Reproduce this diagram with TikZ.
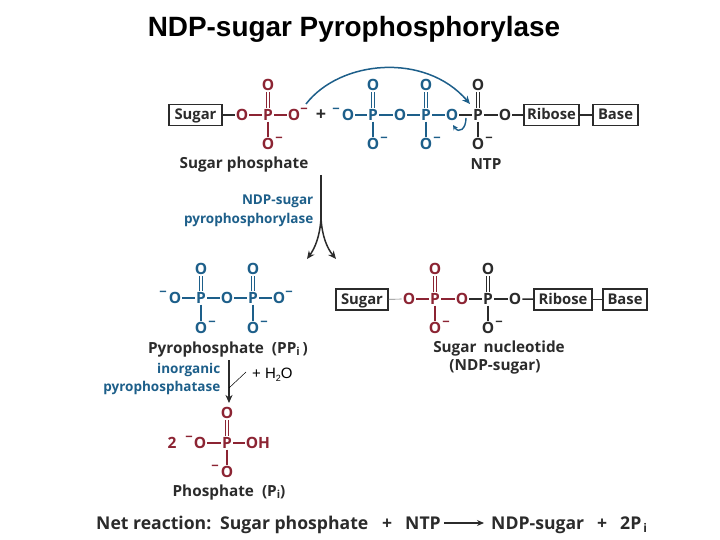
\documentclass[tikz,border=0pt]{standalone}
\usepackage{fontspec}
\setmainfont{Open Sans}
\newfontfamily\arialfont{Liberation Sans}
\usetikzlibrary{arrows.meta}
\definecolor{cred}{HTML}{8C2433}
\definecolor{cblue}{HTML}{1D5F8A}
\definecolor{cblk}{HTML}{2B2B2B}
\tikzset{
  atom/.style={font=\fontsize{15.5}{15.5}\selectfont\bfseries,inner sep=1pt,text height=11pt,text depth=0pt,align=center},
  chg/.style={font=\fontsize{13}{13}\selectfont\bfseries,inner sep=0pt,yshift=-1.5pt},
  boxn/.style={draw=cblk,line width=1.4pt,font=\fontsize{14.8}{14.8}\selectfont\bfseries,text=cblk,inner sep=0pt,minimum height=21pt,fill=white,text height=11pt,text depth=1pt},
  lab/.style={font=\fontsize{15.3}{15.3}\selectfont\bfseries,inner sep=0pt,text=cblk,yshift=-1.5pt},
  enz/.style={font=\fontsize{13.5}{18.5}\selectfont\bfseries,inner sep=0pt,text=cblue},
  bond/.style={line width=1.5pt},
  dbl/.style={double=white,double distance=1.5pt,line width=1pt},
  tip/.style={-{Stealth[length=8pt,width=7pt,inset=2.5pt]}},
}
\newcommand{\qat}[4]{\node[atom,text=#4] (#1) at (#2) {#3};}
\newcommand{\qch}[3]{\node[chg,text=#3] at (#1) {#2};}
\begin{document}
\begin{tikzpicture}[x=1pt,y=-1pt]
\useasboundingbox[fill=white] (0,0) rectangle (720,540);
\node[font=\arialfont\bfseries\fontsize{27.9}{27.9}\selectfont,inner sep=0pt,text=black] (title) at (354,29) {NDP-sugar Pyrophosphorylase};

% Top row: sugar phosphate
\node[boxn,minimum width=53pt] (s1) at (195.5,115) {Sugar};
\qat{a1}{242,115}{O}{cred}\qat{a2}{268,115}{P}{cred}\qat{a3}{294,115}{O}{cred}
\qat{a4}{268,85}{O}{cred}\qat{a5}{268,144}{O}{cred}
\qch{304,109}{−}{cred}\qch{279,138}{−}{cred}
\draw[bond,cblk] (s1) -- (a1);
\draw[bond,cred] (a1) -- (a2); \draw[bond,cred] (a2) -- (a3); \draw[bond,cred] (a2) -- (a5);
\draw[dbl,cred] (a2) -- (a4);
\node[font=\fontsize{18}{18}\selectfont\bfseries,inner sep=0pt,text=cblk] (plus1) at (321,115) {+};

% Top row: NTP
\qch{336,109}{−}{cblue}
\qat{b1}{348,115}{O}{cblue}\qat{b2}{373,115}{P}{cblue}\qat{b3}{400,115}{O}{cblue}
\qat{b4}{426,115}{P}{cblue}\qat{b5}{452,115}{O}{cblue}
\qat{b6}{373,85}{O}{cblue}\qat{b7}{373,144}{O}{cblue}
\qat{b8}{426,85}{O}{cblue}\qat{b9}{426,144}{O}{cblue}
\qch{384,138}{−}{cblue}\qch{437,138}{−}{cblue}
\qat{c1}{478,115}{P}{cblk}\qat{c2}{505,115}{O}{cblk}\qat{c3}{478,85}{O}{cblk}\qat{c4}{478,144}{O}{cblk}
\qch{489,138}{−}{cblk}
\node[boxn,minimum width=55pt] (r1) at (551.5,115) {Ribose};
\node[boxn,minimum width=45pt] (n1) at (615.5,115) {Base};
\foreach \p/\q in {b1/b2,b2/b3,b3/b4,b4/b5,b2/b7,b4/b9} \draw[bond,cblue] (\p) -- (\q);
\draw[dbl,cblue] (b2) -- (b6); \draw[dbl,cblue] (b4) -- (b8);
\draw[bond,cblk] (b5) -- (c1); \draw[bond,cblk] (c1) -- (c2); \draw[bond,cblk] (c1) -- (c4);
\draw[dbl,cblk] (c1) -- (c3);
\draw[bond,cblk] (c2) -- (r1); \draw[bond,cblk] (r1) -- (n1);

% Curved arrows
\draw[cblue,line width=1.5pt,tip] (306,104) .. controls (340,60) and (425,52) .. (470,104);
\coordinate (kt) at (466,118);
\coordinate (kh) at (453,125);
\draw[cblue,line width=1.4pt,-{Stealth[length=5pt,width=5pt]}] (kt) .. controls (466,129) and (459,134) .. (kh);

\node[lab] (l1) at (244,163) {Sugar phosphate};
\node[lab] (l2) at (486,163) {NTP};

% Forked reaction arrow
\coordinate (f0) at (321,175);
\coordinate (f1) at (321,218);
\coordinate (f2) at (307,259);
\coordinate (f3) at (336,259);
\draw[cblk,line width=1.6pt] (f0) -- (f1);
\draw[cblk,line width=1.5pt,tip] (f1) .. controls (320,236) and (315,248) .. (f2);
\draw[cblk,line width=1.5pt,tip] (f1) .. controls (322,236) and (327,248) .. (f3);
\node[enz,align=right,anchor=east] (e1) at (313.5,211) {NDP-sugar\\pyrophosphorylase};

% Pyrophosphate
\qch{163,292}{−}{cblue}
\qat{d1}{175,298}{O}{cblue}\qat{d2}{201,298}{P}{cblue}\qat{d3}{227,298}{O}{cblue}
\qat{d4}{253,298}{P}{cblue}\qat{d5}{279,298}{O}{cblue}
\qat{d6}{201,269}{O}{cblue}\qat{d7}{201,328}{O}{cblue}
\qat{d8}{253,269}{O}{cblue}\qat{d9}{253,328}{O}{cblue}
\qch{289,292}{−}{cblue}\qch{212,322}{−}{cblue}\qch{264,322}{−}{cblue}
\foreach \p/\q in {d1/d2,d2/d3,d3/d4,d4/d5,d2/d7,d4/d9} \draw[bond,cblue] (\p) -- (\q);
\draw[dbl,cblue] (d2) -- (d6); \draw[dbl,cblue] (d4) -- (d8);
\node[lab] (l3) at (228,348) {Pyrophosphate\hspace{8pt}(PP\raisebox{-2.5pt}{\fontsize{11}{11}\selectfont i}\hspace{3pt})};

% Sugar nucleotide
\node[boxn,minimum width=52pt] (s2) at (362,299.5) {Sugar};
\qat{g1}{409,299}{O}{cred}\qat{g2}{435,299}{P}{cred}\qat{g3}{462,299}{O}{cred}
\qat{g4}{435,269}{O}{cred}\qat{g5}{435,328}{O}{cred}
\qat{h1}{488,299}{P}{cblk}\qat{h2}{515,299}{O}{cblk}\qat{h3}{488,269}{O}{cblk}\qat{h4}{488,328}{O}{cblk}
\qch{446,322}{−}{cred}\qch{499,322}{−}{cblk}
\node[boxn,minimum width=58pt] (r2) at (563,299.5) {Ribose};
\node[boxn,minimum width=44pt] (n2) at (625,299.5) {Base};
\draw[line width=0.7pt,gray] (s2) -- (g1);
\draw[bond,cred] (g1) -- (g2); \draw[bond,cred] (g2) -- (g3); \draw[bond,cred] (g2) -- (g5);
\draw[dbl,cred] (g2) -- (g4);
\draw[bond,cblk] (g3) -- (h1); \draw[bond,cblk] (h1) -- (h2); \draw[bond,cblk] (h1) -- (h4);
\draw[dbl,cblk] (h1) -- (h3);
\draw[bond,cblk] (h2) -- (r2); \draw[bond,cblk] (r2) -- (n2);
\node[lab] (l4) at (499,347) {Sugar\hspace{7pt}nucleotide};
\node[lab] (l5) at (495,365) {(NDP-sugar)};

% Pyrophosphatase step
\coordinate (v0) at (229,360);
\coordinate (v1) at (229,403);
\coordinate (w0) at (229,388);
\coordinate (w1) at (246,372);
\draw[cblk,line width=1.6pt,tip] (v0) -- (v1);
\draw[black,line width=0.5pt] (w0) -- (w1);
\node[enz,align=right,anchor=east] (e2) at (220.5,379) {inorganic\\pyrophosphatase};
\node[font=\arialfont\fontsize{15}{15}\selectfont,inner sep=0pt,anchor=west,text=black] (wat) at (252,375) {+ H\raisebox{-2.5pt}{\fontsize{9}{9}\selectfont 2}O};

% Phosphate
\node[atom,text=cred] (two) at (172,443) {2};
\qch{189,437}{−}{cred}
\qat{k1}{200,443}{O}{cred}\qat{k2}{227,443}{P}{cred}
\node[atom,text=cred] (k3) at (258,443) {OH};
\qat{k4}{227,413}{O}{cred}\qat{k5}{227,472}{O}{cred}
\qch{215,466}{−}{cred}
\draw[bond,cred] (k1) -- (k2); \draw[bond,cred] (k2) -- (k3); \draw[bond,cred] (k2) -- (k5);
\draw[dbl,cred] (k2) -- (k4);
\node[lab] (l6) at (229,491) {Phosphate\hspace{8pt}(P\raisebox{-2.5pt}{\fontsize{11}{11}\selectfont i})};

% Net reaction
\tikzset{net/.style={font=\fontsize{17.6}{17.6}\selectfont\bfseries,inner sep=0pt,text=cblk,anchor=base west}}
\node[net] (m1) at (96,529.5) {Net reaction:};
\node[net] (m2) at (220,529.5) {Sugar phosphate};
\node[net] (m3) at (382,529.5) {+};
\node[net] (m4) at (405,529.5) {NTP};
\node[net] (m5) at (491,529.5) {NDP-sugar};
\node[net] (m6) at (597,529.5) {+};
\node[net] (m7) at (620,529.5) {2P\raisebox{-3pt}{\fontsize{12}{12}\selectfont\hspace{2pt}i}};
\coordinate (q0) at (444,523);
\coordinate (q1) at (484,523);
\draw[cblk,line width=1.1pt,-{Stealth[length=7pt,width=6pt,open]}] (q0) -- (q1);
\end{tikzpicture}
\end{document}
